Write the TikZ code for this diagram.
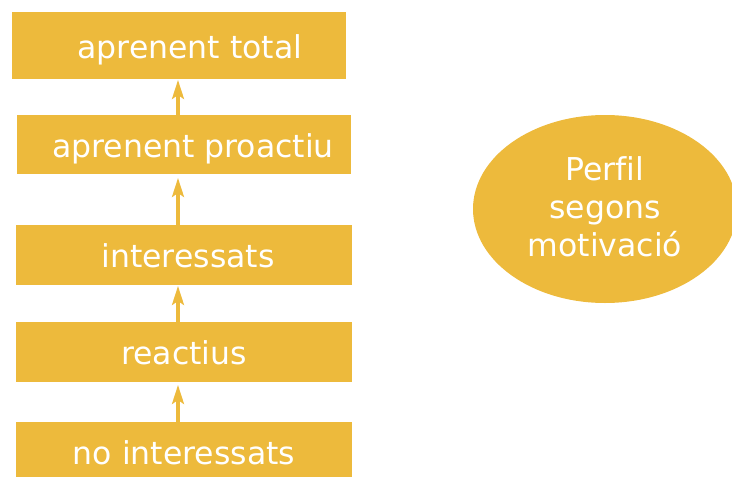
\documentclass[tikz,border=0pt]{standalone}
\usepackage{fontspec}
\setmainfont[Ligatures={NoCommon}]{DejaVu Sans}
\usetikzlibrary{arrows.meta,shapes.geometric}
\definecolor{gold}{RGB}{237,186,60}
\tikzset{
  stage/.style={fill=gold,draw=none,inner sep=0pt},
  stagetext/.style={text=white,font=\fontsize{31.5}{36}\selectfont,inner sep=0pt,anchor=base},
  rise/.style={draw=gold,line width=3.2pt,-{Stealth[length=19pt,width=12pt,inset=4pt]}},
}
\begin{document}
\begin{tikzpicture}[x=1pt,y=-1pt]
\useasboundingbox (0,0) rectangle (732,477);
% stage boxes, top to bottom
\node[stage,minimum width=334pt,minimum height=67pt] (b1) at (179,45.5) {};
\node[stage,minimum width=334pt,minimum height=59pt] (b2) at (184,144.5) {};
\node[stage,minimum width=336pt,minimum height=60pt] (b3) at (184,255) {};
\node[stage,minimum width=336pt,minimum height=60pt] (b4) at (184,352) {};
\node[stage,minimum width=336pt,minimum height=55pt] (b5) at (184,449.5) {};
% labels
\node[stagetext] (t1) at (190,58) {aprenent total};
\node[stagetext] (t2) at (193,157) {aprenent proactiu};
\node[stagetext] (t3) at (188,267) {interessats};
\node[stagetext] (t4) at (184,364) {reactius};
\node[stagetext] (t5) at (184,464) {no interessats};
% arrows between stages
\coordinate (a5) at (178,422); \coordinate (h4) at (178,385);
\coordinate (a4) at (178,322); \coordinate (h3) at (178,286);
\coordinate (a3) at (178,225); \coordinate (h2) at (178,178);
\coordinate (a2) at (178,115); \coordinate (h1) at (178,80);
\draw[rise] (a5) -- (h4);
\draw[rise] (a4) -- (h3);
\draw[rise] (a3) -- (h2);
\draw[rise] (a2) -- (h1);
% profile ellipse
\node[ellipse,fill=gold,draw=none,minimum width=264pt,minimum height=188pt,inner sep=0pt] (prof) at (605,209) {};
\node[text=white,font=\fontsize{31.5}{38}\selectfont,align=center,inner sep=0pt] (proftext) at (605,207) {Perfil\\segons\\motivació};
\end{tikzpicture}
\end{document}
